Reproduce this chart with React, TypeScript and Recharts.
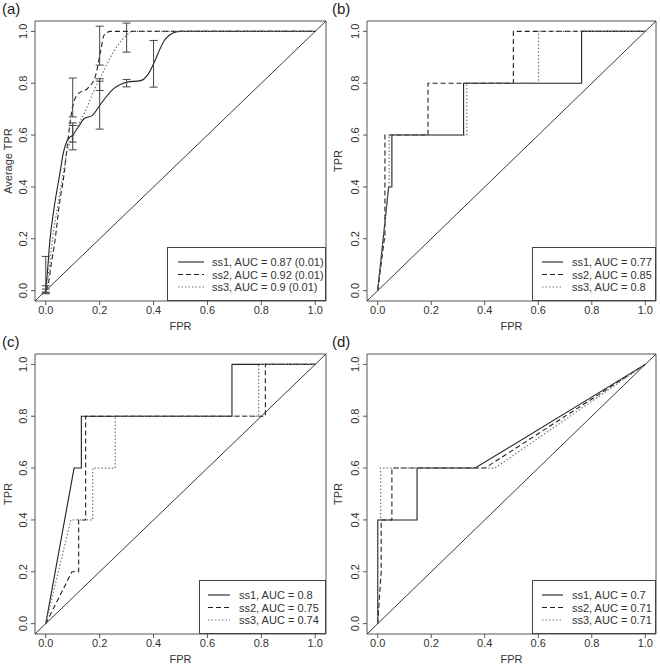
import React from 'react';
import { ComposedChart, Line, Scatter, ErrorBar, XAxis, YAxis, ReferenceArea, Legend, Label } from 'recharts';

type Pt = { x: number; y: number };
type ErrPt = { x: number; y: number; e: number };

const FONT = '"Liberation Sans", Arial, Helvetica, sans-serif';
const ticks = [0, 0.2, 0.4, 0.6, 0.8, 1.0];
const lo = -0.04;
const hi = 1.04;
const diagonal: Pt[] = [{ x: lo, y: lo }, { x: hi, y: hi }];

// (a) averaged ROC curves, smoothed
const aSs1: Pt[] = [
  { x: 0, y: 0 }, { x: 0.006, y: 0.07 }, { x: 0.015, y: 0.19 }, { x: 0.031, y: 0.32 },
  { x: 0.052, y: 0.45 }, { x: 0.065, y: 0.53 }, { x: 0.08, y: 0.58 }, { x: 0.1, y: 0.6 },
  { x: 0.12, y: 0.63 }, { x: 0.142, y: 0.663 }, { x: 0.173, y: 0.676 }, { x: 0.204, y: 0.72 },
  { x: 0.253, y: 0.78 }, { x: 0.3, y: 0.804 }, { x: 0.352, y: 0.81 }, { x: 0.383, y: 0.84 },
  { x: 0.4, y: 0.875 }, { x: 0.44, y: 0.965 }, { x: 0.475, y: 0.995 }, { x: 0.5, y: 1 }, { x: 1, y: 1 },
];
const aSs2: Pt[] = [
  { x: 0, y: 0 }, { x: 0.01, y: 0.03 }, { x: 0.02, y: 0.1 }, { x: 0.035, y: 0.2 },
  { x: 0.05, y: 0.33 }, { x: 0.068, y: 0.45 }, { x: 0.08, y: 0.56 }, { x: 0.093, y: 0.67 },
  { x: 0.102, y: 0.72 }, { x: 0.117, y: 0.755 }, { x: 0.16, y: 0.785 }, { x: 0.185, y: 0.83 },
  { x: 0.204, y: 0.927 }, { x: 0.216, y: 0.985 }, { x: 0.24, y: 1 }, { x: 1, y: 1 },
];
const aSs3: Pt[] = [
  { x: 0, y: 0 }, { x: 0.012, y: 0.08 }, { x: 0.025, y: 0.2 }, { x: 0.045, y: 0.33 },
  { x: 0.064, y: 0.45 }, { x: 0.08, y: 0.54 }, { x: 0.1, y: 0.59 }, { x: 0.111, y: 0.618 },
  { x: 0.148, y: 0.695 }, { x: 0.179, y: 0.772 }, { x: 0.21, y: 0.837 }, { x: 0.24, y: 0.9 },
  { x: 0.27, y: 0.95 }, { x: 0.3, y: 0.985 }, { x: 0.32, y: 1 }, { x: 1, y: 1 },
];
const aErr1: ErrPt[] = [
  { x: 0, y: 0.06, e: 0.072 }, { x: 0.1, y: 0.595, e: 0.052 }, { x: 0.2, y: 0.72, e: 0.097 },
  { x: 0.3, y: 0.8, e: 0.014 }, { x: 0.4, y: 0.875, e: 0.09 },
];
const aErr2: ErrPt[] = [
  { x: 0, y: 0.005, e: 0.014 }, { x: 0.1, y: 0.745, e: 0.075 }, { x: 0.2, y: 0.945, e: 0.075 },
];
const aErr3: ErrPt[] = [
  { x: 0, y: 0, e: 0.006 }, { x: 0.1, y: 0.605, e: 0.032 }, { x: 0.2, y: 0.79, e: 0.018 },
  { x: 0.3, y: 0.976, e: 0.056 },
];
const aLegend = ['ss1, AUC = 0.87 (0.01)', 'ss2, AUC = 0.92 (0.01)', 'ss3, AUC = 0.9 (0.01)'];

// (b)
const bSs1: Pt[] = [
  { x: 0, y: 0 }, { x: 0.041, y: 0.4 }, { x: 0.053, y: 0.4 }, { x: 0.053, y: 0.6 }, { x: 0.321, y: 0.6 },
  { x: 0.321, y: 0.8 }, { x: 0.762, y: 0.8 }, { x: 0.762, y: 1 }, { x: 1, y: 1 },
];
const bSs2: Pt[] = [
  { x: 0, y: 0 }, { x: 0.025, y: 0.2 }, { x: 0.027, y: 0.2 }, { x: 0.027, y: 0.6 }, { x: 0.188, y: 0.6 },
  { x: 0.188, y: 0.8 }, { x: 0.507, y: 0.8 }, { x: 0.507, y: 1 }, { x: 1, y: 1 },
];
const bSs3: Pt[] = [
  { x: 0, y: 0 }, { x: 0.04, y: 0.4 }, { x: 0.043, y: 0.4 }, { x: 0.043, y: 0.6 }, { x: 0.333, y: 0.6 },
  { x: 0.333, y: 0.8 }, { x: 0.601, y: 0.8 }, { x: 0.601, y: 1 }, { x: 1, y: 1 },
];
const bLegend = ['ss1, AUC = 0.77', 'ss2, AUC = 0.85', 'ss3, AUC = 0.8'];

// (c)
const cSs1: Pt[] = [
  { x: 0, y: 0 }, { x: 0.105, y: 0.6 }, { x: 0.132, y: 0.6 }, { x: 0.132, y: 0.8 },
  { x: 0.691, y: 0.8 }, { x: 0.691, y: 1 }, { x: 1, y: 1 },
];
const cSs2: Pt[] = [
  { x: 0, y: 0 }, { x: 0.097, y: 0.2 }, { x: 0.122, y: 0.2 }, { x: 0.122, y: 0.4 }, { x: 0.148, y: 0.4 },
  { x: 0.148, y: 0.8 }, { x: 0.815, y: 0.8 }, { x: 0.815, y: 1 }, { x: 1, y: 1 },
];
const cSs3: Pt[] = [
  { x: 0, y: 0 }, { x: 0.093, y: 0.4 }, { x: 0.174, y: 0.4 }, { x: 0.174, y: 0.6 }, { x: 0.258, y: 0.6 },
  { x: 0.258, y: 0.8 }, { x: 0.79, y: 0.8 }, { x: 0.79, y: 1 }, { x: 1, y: 1 },
];
const cLegend = ['ss1, AUC = 0.8', 'ss2, AUC = 0.75', 'ss3, AUC = 0.74'];

// (d)
const dSs1: Pt[] = [
  { x: 0, y: 0 }, { x: 0, y: 0.4 }, { x: 0.147, y: 0.4 }, { x: 0.147, y: 0.6 }, { x: 0.364, y: 0.6 }, { x: 1, y: 1 },
];
const dSs2: Pt[] = [
  { x: 0, y: 0 }, { x: 0.013, y: 0.2 }, { x: 0.013, y: 0.4 }, { x: 0.053, y: 0.4 }, { x: 0.053, y: 0.6 },
  { x: 0.401, y: 0.6 }, { x: 1, y: 1 },
];
const dSs3: Pt[] = [
  { x: 0, y: 0 }, { x: 0, y: 0.4 }, { x: 0.011, y: 0.4 }, { x: 0.011, y: 0.6 }, { x: 0.438, y: 0.6 }, { x: 1, y: 1 },
];
const dLegend = ['ss1, AUC = 0.7', 'ss2, AUC = 0.71', 'ss3, AUC = 0.71'];

const lineStyles = [
  { stroke: '#222', dash: undefined as string | undefined, w: 1.1 },
  { stroke: '#222', dash: '5 3', w: 1.1 },
  { stroke: '#777', dash: '1.5 2', w: 1.2 },
];

interface LegendPos { x: number; w: number; s1: number; s2: number; tx: number }

const YTick = (props: any) => {
  const { x, y, payload } = props;
  return (
    <text transform={`translate(${x - 2},${y}) rotate(-90)`} textAnchor="middle" fontSize={11} fill="#333" fontFamily={FONT}>
      {Number(payload.value).toFixed(1)}
    </text>
  );
};

const LegendBox = ({ pos, labels }: { pos: LegendPos; labels: string[] }) => (
  <svg width={pos.w} height={54} style={{ display: 'block' }}>
    <rect x={0.5} y={0.5} width={pos.w - 1} height={53} fill="#fff" stroke="#444" />
    {labels.map((t, i) => {
      const ry = 15 + i * 12.5;
      const st = lineStyles[i];
      return (
        <g key={t}>
          <line x1={pos.s1} x2={pos.s2} y1={ry} y2={ry} stroke={st.stroke} strokeWidth={st.w} strokeDasharray={st.dash} />
          <text x={pos.tx} y={ry + 4} fontSize={11} fill="#333" fontFamily={FONT}>{t}</text>
        </g>
      );
    })}
  </svg>
);

interface PanelProps {
  tag: string;
  yTitle: string;
  series: Pt[][];
  errors?: ErrPt[][];
  smooth?: boolean;
  legend: string[];
  pos: LegendPos;
  yw: number;
  left: number;
  top: number;
}

const Panel = ({ tag, yTitle, series, errors, smooth, legend, pos, yw, left, top }: PanelProps) => (
  <div style={{ position: 'absolute', left, top, width: 330, height: 333 }}>
    <ComposedChart width={330} height={333} margin={{ top: 21, right: 4, bottom: 0, left: 0 }}>
      <XAxis
        type="number" dataKey="x" domain={[lo, hi]} ticks={ticks} interval={0} allowDataOverflow
        tickFormatter={(v: number) => v.toFixed(1)} axisLine={false} tickLine={{ stroke: '#555' }}
        tickSize={4} tickMargin={1} height={32} tick={{ fontSize: 11, fill: '#333', fontFamily: FONT }}
      >
        <Label
          content={(p: any) => (
            <text x={p.viewBox.x + p.viewBox.width / 2} y={p.viewBox.y + 29} textAnchor="middle" fontSize={11} fill="#333" fontFamily={FONT}>
              FPR
            </text>
          )}
        />
      </XAxis>
      <YAxis
        type="number" dataKey="y" domain={[lo, hi]} ticks={ticks} interval={0} allowDataOverflow width={yw}
        axisLine={false} tickLine={{ stroke: '#555' }} tickSize={4} tickMargin={2} tick={<YTick />}
      >
        <Label
          content={(p: any) => (
            <text transform={`translate(12,${p.viewBox.y + p.viewBox.height / 2}) rotate(-90)`} textAnchor="middle" fontSize={11} fill="#333" fontFamily={FONT}>
              {yTitle}
            </text>
          )}
        />
      </YAxis>
      <ReferenceArea x1={lo} x2={hi} y1={lo} y2={hi} fill="none" stroke="#555" strokeWidth={1} ifOverflow="visible" />
      <Line data={diagonal} dataKey="y" type="linear" stroke="#222" strokeWidth={0.9} dot={false} isAnimationActive={false} />
      {series.map((s, i) => (
        <Line
          key={`s${i}`} data={s} dataKey="y" type={smooth ? 'monotone' : 'linear'} stroke={lineStyles[i].stroke}
          strokeWidth={lineStyles[i].w} strokeDasharray={lineStyles[i].dash} dot={false} isAnimationActive={false}
        />
      ))}
      {errors?.map((e, i) => (
        <Scatter key={`e${i}`} data={e} dataKey="y" shape={() => <g />} isAnimationActive={false}>
          <ErrorBar dataKey="e" direction="y" width={4} stroke="#444" strokeWidth={1} />
        </Scatter>
      ))}
      <Legend
        verticalAlign="middle" align="center" layout="horizontal"
        wrapperStyle={{ left: pos.x, top: 247, width: pos.w, height: 54 }}
        content={() => <LegendBox pos={pos} labels={legend} />}
      />
    </ComposedChart>
    <div style={{ position: 'absolute', left: 2, top: 0, fontSize: 15, fontFamily: FONT, color: '#222' }}>{tag}</div>
  </div>
);

export default function App() {
  return (
    <div style={{ position: 'absolute', left: 0, top: 0, width: 660, height: 667, background: '#fff' }}>
      <Panel tag="(a)" yTitle="Average TPR" series={[aSs1, aSs2, aSs3]} errors={[aErr1, aErr2, aErr3]} smooth
        legend={aLegend} pos={{ x: 167, w: 159, s1: 11, s2: 37, tx: 45 }} yw={35} left={0} top={0} />
      <Panel tag="(b)" yTitle="TPR" series={[bSs1, bSs2, bSs3]}
        legend={bLegend} pos={{ x: 202, w: 124, s1: 10, s2: 31, tx: 40 }} yw={37} left={330} top={0} />
      <Panel tag="(c)" yTitle="TPR" series={[cSs1, cSs2, cSs3]}
        legend={cLegend} pos={{ x: 199, w: 127, s1: 9, s2: 31, tx: 40 }} yw={35} left={0} top={333} />
      <Panel tag="(d)" yTitle="TPR" series={[dSs1, dSs2, dSs3]}
        legend={dLegend} pos={{ x: 202, w: 124, s1: 10, s2: 31, tx: 40 }} yw={37} left={330} top={333} />
    </div>
  );
}
